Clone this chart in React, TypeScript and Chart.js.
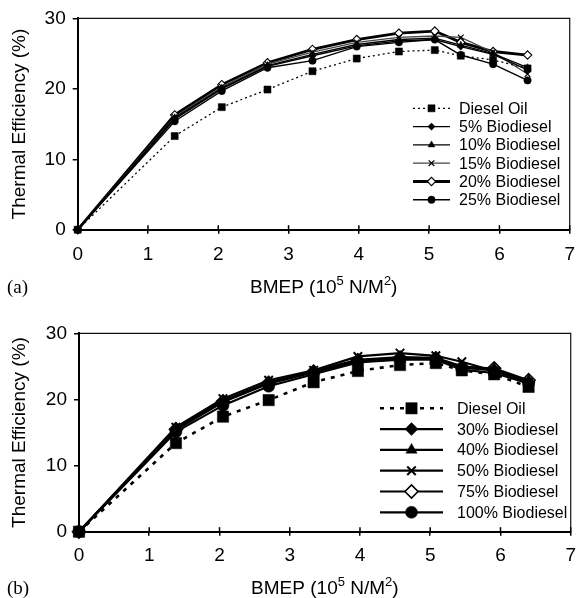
import React, { useEffect, useRef } from "react";
import { Chart, registerables } from "chart.js";
import { drawPoint } from "chart.js/helpers";

Chart.register(...registerables);

const FONT = "'Liberation Sans', Arial, Helvetica, sans-serif";

// ---------- data ----------
const bmep = [0, 1.38, 2.05, 2.7, 3.34, 3.97, 4.57, 5.08, 5.45, 5.91, 6.4];
const xTickValues = [0, 1, 2, 3, 4, 5, 6, 7];
const yTickValues = [0, 10, 20, 30];

const namesA = ["Diesel Oil", "5% Biodiesel", "10% Biodiesel", "15% Biodiesel", "20% Biodiesel", "25% Biodiesel"];
const dieselA = [0, 13.3, 17.4, 19.9, 22.5, 24.3, 25.3, 25.5, 24.7, 24.1, 22.9];
const bio5A = [0, 15.7, 20.0, 23.2, 24.7, 26.1, 26.8, 27.0, 26.0, 24.9, 22.7];
const bio10A = [0, 15.9, 20.1, 23.3, 24.9, 26.3, 27.0, 27.2, 26.2, 25.0, 23.0];
const bio15A = [0, 16.0, 20.3, 23.5, 25.2, 26.6, 27.3, 27.5, 27.3, 25.2, 22.1];
const bio20A = [0, 16.3, 20.6, 23.7, 25.6, 27.0, 27.9, 28.2, 26.6, 25.3, 24.8];
const bio25A = [0, 15.4, 19.7, 23.0, 24.0, 26.0, 26.6, 27.0, 24.8, 23.5, 21.2];

const namesB = ["Diesel Oil", "30% Biodiesel", "40% Biodiesel", "50% Biodiesel", "75% Biodiesel", "100% Biodiesel"];
const dieselB = [0, 13.4, 17.4, 19.9, 22.6, 24.3, 25.2, 25.5, 24.4, 23.8, 21.9];
const bio30B = [0, 15.4, 19.6, 22.4, 24.1, 25.8, 26.2, 26.2, 24.8, 24.4, 22.6];
const bio40B = [0, 15.6, 19.8, 22.6, 24.3, 26.0, 26.4, 26.3, 25.0, 24.6, 22.8];
const bio50B = [0, 15.8, 20.1, 22.9, 24.4, 26.5, 27.0, 26.6, 25.7, 24.3, 22.6];
const bio75B = [0, 15.5, 19.7, 22.5, 24.2, 25.9, 26.3, 26.2, 24.9, 24.7, 22.9];
const bio100B = [0, 15.1, 19.1, 22.0, 23.8, 25.6, 26.0, 26.0, 24.5, 24.0, 22.4];

const seriesA = [dieselA, bio5A, bio10A, bio15A, bio20A, bio25A];
const seriesB = [dieselB, bio30B, bio40B, bio50B, bio75B, bio100B];

// ---------- styles ----------
type Sty = {
  pointStyle: string;
  radius: number;
  lineWidth: number;
  dash: number[];
  lineColor: string;
  fill: string;
  pbw: number;
};

const stylesA: Sty[] = [
  { pointStyle: "rect", radius: 5, lineWidth: 1.3, dash: [2, 3], lineColor: "#000", fill: "#000", pbw: 0.5 },
  { pointStyle: "rectRot", radius: 3.6, lineWidth: 1.4, dash: [], lineColor: "#000", fill: "#000", pbw: 0.5 },
  { pointStyle: "triangle", radius: 4, lineWidth: 1.4, dash: [], lineColor: "#000", fill: "#000", pbw: 0.5 },
  { pointStyle: "crossRot", radius: 4, lineWidth: 1.3, dash: [], lineColor: "#444", fill: "#000", pbw: 1.2 },
  { pointStyle: "rectRot", radius: 4.2, lineWidth: 2.8, dash: [], lineColor: "#000", fill: "#fff", pbw: 1.1 },
  { pointStyle: "circle", radius: 3.7, lineWidth: 1.4, dash: [], lineColor: "#000", fill: "#000", pbw: 0.5 },
];

const stylesB: Sty[] = [
  { pointStyle: "rect", radius: 8, lineWidth: 2.6, dash: [4, 6], lineColor: "#000", fill: "#000", pbw: 0.5 },
  { pointStyle: "rectRot", radius: 6.5, lineWidth: 2.2, dash: [], lineColor: "#000", fill: "#000", pbw: 0.5 },
  { pointStyle: "triangle", radius: 6.5, lineWidth: 2.2, dash: [], lineColor: "#000", fill: "#000", pbw: 0.5 },
  { pointStyle: "crossRot", radius: 6, lineWidth: 2.2, dash: [], lineColor: "#000", fill: "#000", pbw: 2 },
  { pointStyle: "rectRot", radius: 6.5, lineWidth: 2.2, dash: [], lineColor: "#000", fill: "#fff", pbw: 1.6 },
  { pointStyle: "circle", radius: 6, lineWidth: 2.2, dash: [], lineColor: "#000", fill: "#000", pbw: 0.5 },
];

type Panel = {
  W: number;
  H: number;
  left: number;
  right: number;
  top: number;
  bottom: number;
  xTickPad: number;
  xTitleBaseline: number;
  legLineX1: number;
  legLineX2: number;
  legTextX: number;
  legRows: number[];
  legFont: number;
};

const panelA: Panel = {
  W: 585, H: 300, left: 77.7, right: 580, top: 14.7, bottom: 229.7,
  xTickPad: 10, xTitleBaseline: 293,
  legLineX1: 413, legLineX2: 450, legTextX: 459,
  legRows: [108.3, 126.6, 144.9, 163.2, 181.5, 199.8], legFont: 16,
};

const panelB: Panel = {
  W: 585, H: 298, left: 79, right: 578.3, top: 33.3, bottom: 231.7,
  xTickPad: 9, xTitleBaseline: 294,
  legLineX1: 380, legLineX2: 443, legTextX: 457,
  legRows: [108.3, 129.1, 149.9, 170.7, 191.5, 212.3], legFont: 16,
};

function makePlugin(p: Panel, names: string[], styles: Sty[]) {
  return {
    id: "decor",
    beforeDatasetsDraw(chart: any) {
      const ctx = chart.ctx;
      const a = chart.chartArea;
      ctx.save();
      ctx.strokeStyle = "#111";
      ctx.lineWidth = 1.2;
      ctx.beginPath();
      ctx.moveTo(a.left, a.top);
      ctx.lineTo(a.right, a.top);
      ctx.lineTo(a.right, a.bottom);
      ctx.stroke();
      // inner part of x ticks
      const xs = chart.scales.x;
      ctx.strokeStyle = "#000";
      ctx.lineWidth = 1.5;
      xTickValues.forEach((v) => {
        if (v === 0) return;
        const px = xs.getPixelForValue(v);
        ctx.beginPath();
        ctx.moveTo(px, a.bottom);
        ctx.lineTo(px, a.bottom - 4.5);
        ctx.stroke();
      });
      ctx.restore();
    },
    afterDraw(chart: any) {
      const ctx = chart.ctx;
      const a = chart.chartArea;
      ctx.save();
      // x axis title with superscripts
      const parts = [
        { t: "BMEP (10", sup: false },
        { t: "5", sup: true },
        { t: " N/M", sup: false },
        { t: "2", sup: true },
        { t: ")", sup: false },
      ];
      const mainFont = `19px ${FONT}`;
      const supFont = `13px ${FONT}`;
      let total = 0;
      const widths = parts.map((pt) => {
        ctx.font = pt.sup ? supFont : mainFont;
        const w = ctx.measureText(pt.t).width;
        total += w;
        return w;
      });
      let x = (a.left + a.right) / 2 - total / 2;
      ctx.fillStyle = "#000";
      ctx.textAlign = "left";
      ctx.textBaseline = "alphabetic";
      parts.forEach((pt, i) => {
        ctx.font = pt.sup ? supFont : mainFont;
        ctx.fillText(pt.t, x, pt.sup ? p.xTitleBaseline - 8 : p.xTitleBaseline);
        x += widths[i];
      });

      // legend
      names.forEach((n, i) => {
        const s = styles[i];
        const y = p.legRows[i];
        ctx.strokeStyle = s.lineColor;
        ctx.lineWidth = s.lineWidth;
        ctx.setLineDash(s.dash);
        ctx.beginPath();
        ctx.moveTo(p.legLineX1, y);
        ctx.lineTo(p.legLineX2, y);
        ctx.stroke();
        ctx.setLineDash([]);
        ctx.fillStyle = s.fill;
        ctx.strokeStyle = "#000";
        ctx.lineWidth = s.pbw;
        drawPoint(ctx, { pointStyle: s.pointStyle as any, rotation: 0, radius: s.radius, borderWidth: s.pbw }, (p.legLineX1 + p.legLineX2) / 2, y);
        ctx.fillStyle = "#000";
        ctx.font = `${p.legFont}px ${FONT}`;
        ctx.textAlign = "left";
        ctx.textBaseline = "middle";
        ctx.fillText(n, p.legTextX, y + 1);
      });
      ctx.restore();
    },
  };
}

function buildConfig(p: Panel, names: string[], series: number[][], styles: Sty[]) {
  const datasets = series.map((vals, i) => {
    const s = styles[i];
    return {
      label: names[i],
      data: bmep.map((xv, j) => ({ x: xv, y: vals[j] })),
      showLine: true,
      borderColor: s.lineColor,
      borderWidth: s.lineWidth,
      borderDash: s.dash,
      pointStyle: s.pointStyle,
      pointRadius: s.radius,
      pointBackgroundColor: s.fill,
      pointBorderColor: "#000",
      pointBorderWidth: s.pbw,
      tension: 0,
      clip: false,
    };
  });
  return {
    type: "scatter",
    data: { datasets },
    options: {
      responsive: false,
      animation: false,
      devicePixelRatio: 1,
      events: [],
      layout: { padding: { top: p.top, right: p.W - p.right, left: 0, bottom: 0 } },
      plugins: { legend: { display: false }, tooltip: { enabled: false }, title: { display: false } },
      scales: {
        x: {
          type: "linear",
          min: 0,
          max: 7,
          afterBuildTicks: (s: any) => {
            s.ticks = xTickValues.map((v) => ({ value: v }));
          },
          afterFit: (s: any) => {
            s.height = p.H - p.bottom;
          },
          ticks: { color: "#000", font: { family: FONT, size: 19 }, padding: p.xTickPad, maxRotation: 0, autoSkip: false },
          grid: { drawOnChartArea: false, drawTicks: true, tickLength: 4, color: "#000", lineWidth: 1.5 },
          border: { display: true, color: "#000", width: 2 },
        },
        y: {
          type: "linear",
          min: 0,
          max: 30,
          afterBuildTicks: (s: any) => {
            s.ticks = yTickValues.map((v) => ({ value: v }));
          },
          afterFit: (s: any) => {
            s.width = p.left;
          },
          ticks: { color: "#000", font: { family: FONT, size: 19 }, padding: 7, autoSkip: false },
          grid: { drawOnChartArea: false, drawTicks: true, tickLength: 5, color: "#000", lineWidth: 1.5 },
          border: { display: true, color: "#000", width: 2 },
          title: {
            display: true,
            text: "Thermal Efficiency (%)",
            color: "#000",
            font: { family: FONT, size: 19 },
            padding: { top: 8, bottom: 0 },
          },
        },
      },
    },
    plugins: [makePlugin(p, names, styles)],
  } as any;
}

function ChartPanel({ p, names, series, styles, top }: { p: Panel; names: string[]; series: number[][]; styles: Sty[]; top: number }) {
  const ref = useRef<HTMLCanvasElement | null>(null);
  useEffect(() => {
    if (!ref.current) return;
    const chart = new Chart(ref.current, buildConfig(p, names, series, styles));
    return () => chart.destroy();
  }, []);
  return (
    <canvas
      ref={ref}
      width={p.W}
      height={p.H}
      style={{ position: "absolute", left: 0, top, width: p.W, height: p.H, display: "block" }}
    />
  );
}

const panelLabelStyle: React.CSSProperties = {
  position: "absolute",
  left: 7,
  fontFamily: "'Liberation Serif', 'Times New Roman', serif",
  fontSize: 19,
  lineHeight: "20px",
  color: "#000",
  whiteSpace: "nowrap",
};

export default function App() {
  return (
    <div style={{ position: "absolute", left: 0, top: 0, width: 585, height: 598, background: "#fff", overflow: "hidden" }}>
      <ChartPanel p={panelA} names={namesA} series={seriesA} styles={stylesA} top={0} />
      <ChartPanel p={panelB} names={namesB} series={seriesB} styles={stylesB} top={300} />
      <div style={{ ...panelLabelStyle, top: 277 }}>(a)</div>
      <div style={{ ...panelLabelStyle, top: 578 }}>(b)</div>
    </div>
  );
}
